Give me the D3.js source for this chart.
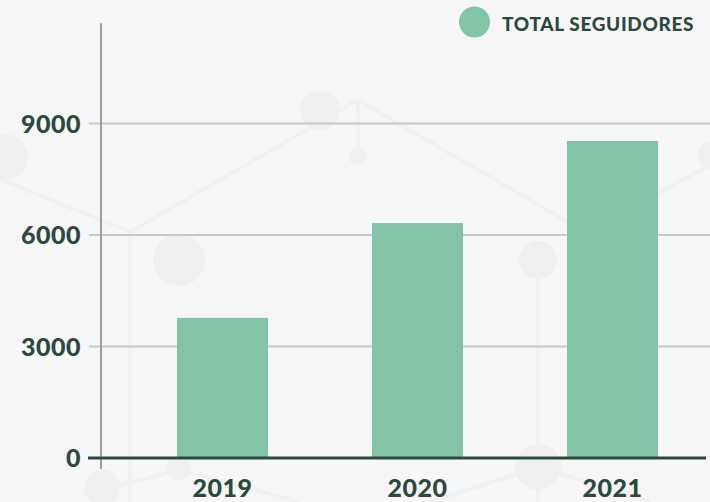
<!DOCTYPE html>
<html>
<head>
<meta charset="utf-8">
<script src="https://cdn.jsdelivr.net/npm/d3@7"></script>
<style>
  html, body { margin: 0; padding: 0; background: #f6f6f6; }
  svg { display: block; }
  text { font-family: Lato, "Open Sans", sans-serif; }
</style>
</head>
<body>
<script>
const categories = ["2019", "2020", "2021"];
const values = [3770, 6320, 8530];
const tickValues = [0, 3000, 6000, 9000];
const seriesName = "TOTAL SEGUIDORES";

const W = 710, H = 502;
const dark = "#2b4a3d", green = "#82c4a5";

const svg = d3.select("body").append("svg").attr("width", W).attr("height", H);
svg.append("rect").attr("width", W).attr("height", H).attr("fill", "#f6f6f6");

// faint decorative network background
const deco = svg.append("g");
const decoLines = [[[-10,175],[130,232]],[[130,232],[358,100]],[[358,100],[585,232]],[[585,232],[720,160]],
  [[130,232],[130,502]],[[538,260],[538,502]],[[358,100],[358,157]],[[100,490],[180,470]],[[180,470],[300,502]],[[538,467],[430,502]],[[538,467],[650,502]]];
decoLines.forEach(l => deco.append("line").attr("x1", l[0][0]).attr("y1", l[0][1]).attr("x2", l[1][0]).attr("y2", l[1][1])
  .attr("stroke", "#f0f0f1").attr("stroke-width", 4));
const decoCircles = [[5,157,23],[179,260,26],[320,110,20],[358,157,9],[538,260,19],[538,467,23],[179,468,12],[102,488,18],[712,155,14]];
decoCircles.forEach(c => deco.append("circle").attr("cx", c[0]).attr("cy", c[1]).attr("r", c[2]).attr("fill", "#efeff1"));

const x = d3.scaleBand().domain(categories).range([125, 710]).paddingInner(0.5333).paddingOuter(0.2667);
const y = d3.scaleLinear().domain([0, 9000]).range([458, 123.5]);

// gridlines
svg.append("g").selectAll("line").data(tickValues.filter(d => d > 0)).join("line")
  .attr("x1", 89).attr("x2", 710).attr("y1", d => y(d)).attr("y2", d => y(d))
  .attr("stroke", "#c9c9c9").attr("stroke-width", 2);

// vertical axis line
svg.append("line").attr("x1", 101).attr("x2", 101).attr("y1", y(11700)).attr("y2", 469)
  .attr("stroke", "#9a9e9c").attr("stroke-width", 2);

// bars
svg.append("g").selectAll("rect").data(values).join("rect")
  .attr("x", (d, i) => x(categories[i])).attr("width", x.bandwidth())
  .attr("y", d => y(d)).attr("height", d => y(0) - y(d)).attr("fill", green);

// baseline
svg.append("line").attr("x1", 88).attr("x2", 706).attr("y1", y(0)).attr("y2", y(0))
  .attr("stroke", dark).attr("stroke-width", 3);

// y tick labels
svg.append("g").selectAll("text").data(tickValues).join("text")
  .attr("x", 81).attr("y", d => y(d) + 9).attr("text-anchor", "end")
  .attr("font-size", 25).attr("font-weight", 900).attr("fill", dark).attr("letter-spacing", 0.5)
  .text(d => d);

// x labels
svg.append("g").selectAll("text").data(categories).join("text")
  .attr("x", d => x(d) + x.bandwidth() / 2).attr("y", 497).attr("text-anchor", "middle")
  .attr("font-size", 25).attr("font-weight", 900).attr("fill", dark).attr("letter-spacing", 0.5)
  .text(d => d);

// legend
svg.append("circle").attr("cx", 474.5).attr("cy", 22).attr("r", 15.5).attr("fill", green);
svg.append("text").attr("x", 502).attr("y", 30.5).attr("font-size", 19).attr("font-weight", 900)
  .attr("fill", dark).attr("letter-spacing", 0.65).text(seriesName);
</script>
</body>
</html>
